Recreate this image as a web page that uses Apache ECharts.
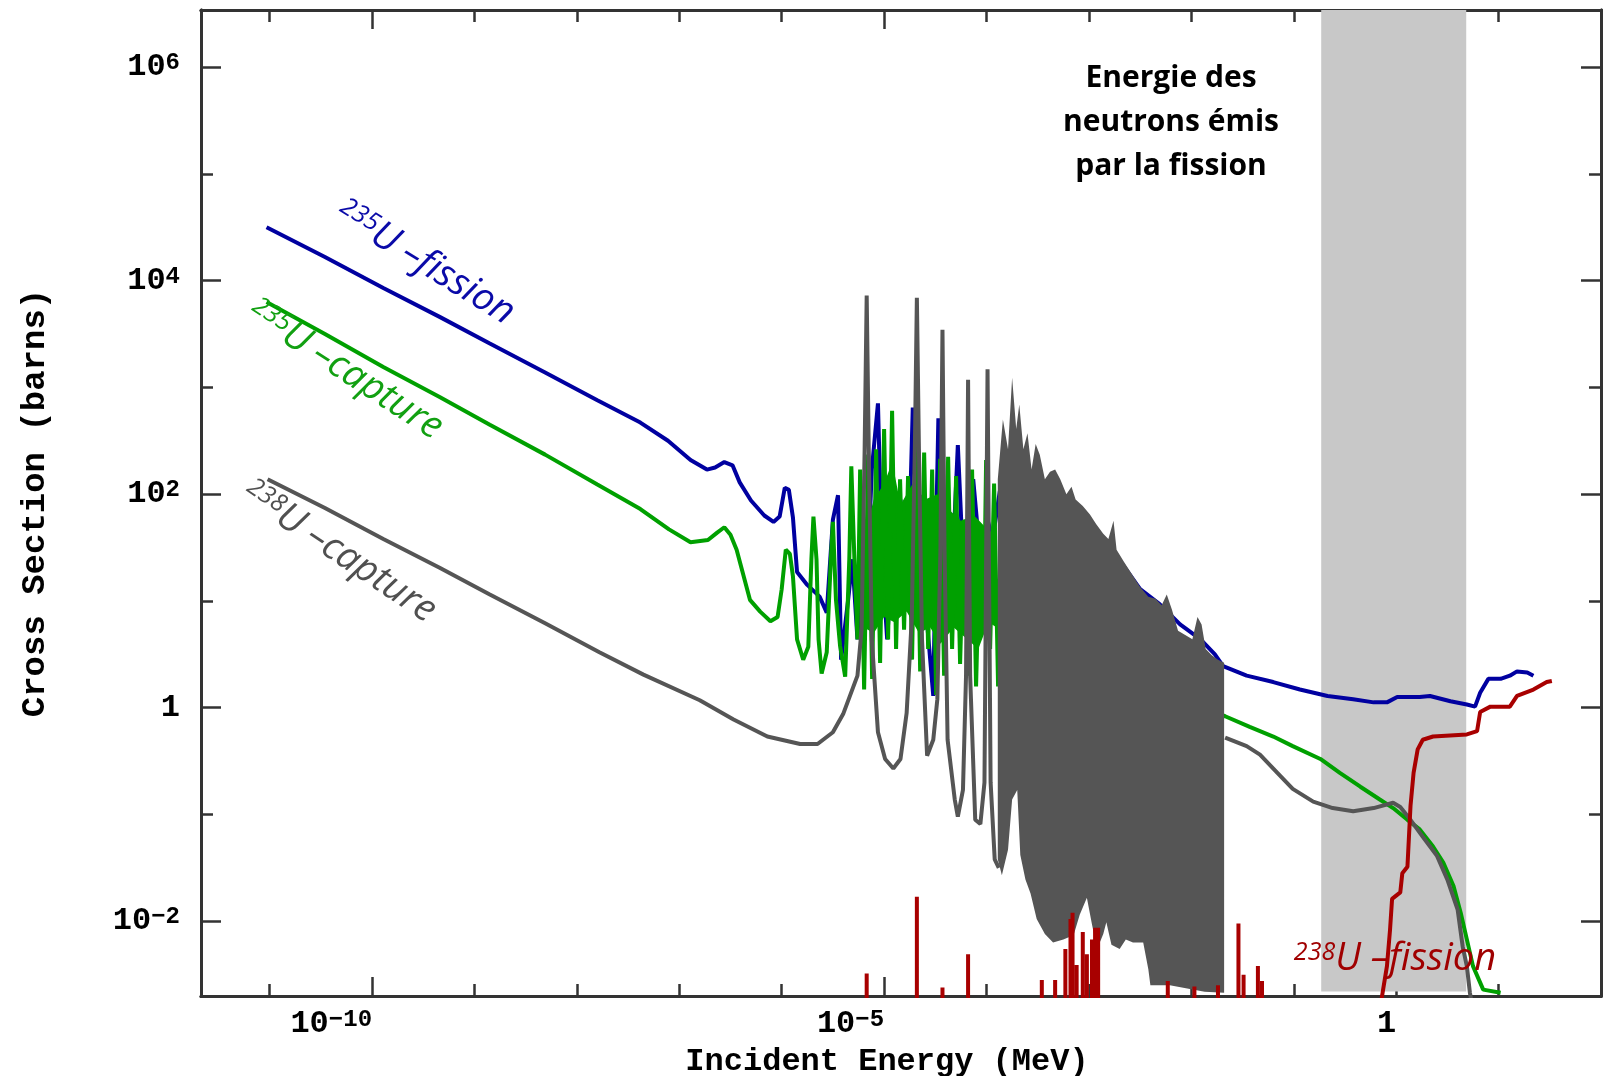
<!DOCTYPE html>
<html>
<head>
<meta charset="utf-8">
<script src="https://cdn.jsdelivr.net/npm/echarts@6/dist/echarts.min.js"></script>
<style>
html, body { margin: 0; padding: 0; background: #fff; }
#main { width: 1603px; height: 1076px; }
</style>
</head>
<body>
<div id="main"></div>
<script>
// every value below is a decade (log10): energy in MeV, cross section in barns

var fis235 = [
    [-11.03, 4.50], [-10.46, 4.22], [-9.89, 3.93], [-9.34, 3.66], [-8.85, 3.41], [-8.31, 3.14],
    [-7.80, 2.88], [-7.38, 2.67], [-7.11, 2.50], [-6.89, 2.32], [-6.73, 2.23], [-6.65, 2.25],
    [-6.56, 2.30], [-6.48, 2.27], [-6.41, 2.11], [-6.30, 1.94], [-6.17, 1.80], [-6.08, 1.74],
    [-6.02, 1.79], [-5.97, 2.06], [-5.93, 2.04], [-5.89, 1.78], [-5.85, 1.27], [-5.75, 1.15],
    [-5.63, 1.04], [-5.56, 0.89], [-5.50, 1.76], [-5.45, 1.99], [-5.42, 0.45], [-5.35, 1.02],
    [-5.31, 1.39], [-5.26, 0.64], [-5.22, 1.58], [-5.18, 0.83], [-5.12, 2.23], [-5.06, 2.85],
    [-5.02, 1.39], [-4.97, 0.64], [-4.91, 1.58], [-4.84, 1.95], [-4.80, 1.02], [-4.75, 1.76],
    [-4.72, 2.81], [-4.67, 1.39], [-4.60, 1.02], [-4.52, 0.11], [-4.49, 1.76], [-4.47, 2.71],
    [-4.43, 1.39], [-4.38, 1.95], [-4.33, 1.39], [-4.28, 2.46], [-4.23, 1.39], [-4.18, 1.76],
    [-4.13, 2.14], [-4.06, 1.39], [-3.99, 1.76], [-3.94, 1.58], [-3.87, 2.03], [-3.82, 1.58],
    [-3.77, 2.16], [-3.67, 1.67], [-3.57, 1.95], [-3.48, 1.76], [-3.31, 1.75], [-3.18, 1.53],
    [-2.99, 1.53], [-2.84, 1.44], [-2.70, 1.38], [-2.50, 1.11], [-2.31, 0.97], [-2.11, 0.78],
    [-1.91, 0.64], [-1.77, 0.50], [-1.69, 0.39], [-1.46, 0.30], [-1.20, 0.24], [-0.94, 0.17],
    [-0.67, 0.11], [-0.42, 0.08], [-0.22, 0.05], [-0.09, 0.05], [0.01, 0.10], [0.23, 0.10],
    [0.33, 0.11], [0.53, 0.06], [0.69, 0.03], [0.77, 0.01], [0.82, 0.14], [0.90, 0.27],
    [1.02, 0.27], [1.11, 0.30], [1.18, 0.34], [1.28, 0.33], [1.34, 0.30]
];

var capt235 = [
    [-11.03, 3.80], [-10.46, 3.50], [-9.89, 3.19], [-9.34, 2.91], [-8.85, 2.65], [-8.31, 2.37],
    [-7.80, 2.09], [-7.38, 1.86], [-7.10, 1.67], [-6.89, 1.55], [-6.72, 1.57], [-6.63, 1.64],
    [-6.56, 1.69], [-6.50, 1.62], [-6.44, 1.48], [-6.31, 1.01], [-6.21, 0.90], [-6.11, 0.81],
    [-6.04, 0.85], [-6.00, 1.11], [-5.96, 1.48], [-5.92, 1.44], [-5.89, 1.23], [-5.85, 0.64],
    [-5.79, 0.45], [-5.74, 0.57], [-5.71, 1.39], [-5.69, 1.79], [-5.66, 1.39], [-5.64, 0.64],
    [-5.61, 0.32], [-5.56, 0.52], [-5.52, 1.39], [-5.50, 1.74], [-5.47, 1.01], [-5.43, 0.58],
    [-5.38, 0.29], [-5.34, 1.39], [-5.32, 2.26], [-5.29, 1.39], [-5.26, 0.64],
    [-5.234, 2.23], [-5.195, 0.17], [-5.156, 2.37], [-5.117, 0.27], [-5.078, 2.42], [-5.039, 0.42],
    [-5.000, 2.61], [-4.961, 0.64], [-4.922, 2.78], [-4.883, 0.55], [-4.844, 2.14], [-4.805, 0.73],
    [-4.766, 2.17], [-4.727, 0.45], [-4.688, 2.61], [-4.648, 0.34], [-4.609, 2.39], [-4.570, 0.55],
    [-4.531, 2.23], [-4.492, 0.12], [-4.453, 2.33], [-4.414, 0.30], [-4.375, 2.35], [-4.336, 0.55],
    [-4.297, 2.17], [-4.258, 0.41], [-4.219, 1.76], [-4.180, 0.30], [-4.141, 2.23], [-4.102, 0.20],
    [-4.063, 1.67], [-4.023, 1.01], [-4.004, 2.32], [-3.965, 0.55], [-3.926, 2.10], [-3.887, 0.20],
    [-3.848, 1.88], [-3.809, 0.64],
    [-1.67, -0.08], [-1.43, -0.18], [-1.20, -0.27], [-1.01, -0.36], [-0.74, -0.48], [-0.55, -0.61],
    [-0.35, -0.74], [-0.16, -0.86], [-0.03, -0.94], [0.11, -1.05], [0.23, -1.14], [0.36, -1.30],
    [0.46, -1.45], [0.56, -1.67], [0.63, -1.92], [0.69, -2.17], [0.75, -2.42], [0.85, -2.64],
    [1.02, -2.67]
];

// dense core of the 235U capture resonances (outline)
var capt235CoreTop = [
    [-5.20, 1.60], [-5.10, 1.95], [-5.00, 2.10], [-4.92, 2.30], [-4.84, 1.90], [-4.72, 2.10],
    [-4.60, 1.95], [-4.48, 2.00], [-4.36, 1.85], [-4.25, 1.75], [-4.12, 1.80], [-4.02, 1.70],
    [-3.90, 1.60]
];
var capt235CoreBottom = [
    [-5.20, 0.75], [-5.10, 0.70], [-5.00, 0.85], [-4.90, 0.80], [-4.78, 0.90], [-4.66, 0.70],
    [-4.55, 0.75], [-4.45, 0.60], [-4.32, 0.75], [-4.20, 0.65], [-4.08, 0.55], [-3.98, 0.80],
    [-3.90, 0.75]
];

var capt238 = [
    [-11.02, 2.14], [-10.46, 1.87], [-9.89, 1.58], [-9.34, 1.31], [-8.85, 1.06], [-8.31, 0.79],
    [-7.78, 0.52], [-7.35, 0.31], [-6.80, 0.07], [-6.47, -0.11], [-6.14, -0.27], [-5.82, -0.34],
    [-5.65, -0.34], [-5.50, -0.23], [-5.40, -0.06], [-5.33, 0.12], [-5.26, 0.30], [-5.22, 0.73],
    [-5.19, 2.42], [-5.17, 3.86], [-5.15, 2.42], [-5.12, 0.64], [-5.06, -0.23], [-4.99, -0.48],
    [-4.91, -0.57], [-4.84, -0.48], [-4.78, -0.05], [-4.73, 0.83], [-4.70, 2.42], [-4.68, 3.84],
    [-4.66, 2.42], [-4.63, 0.64], [-4.58, -0.45], [-4.52, -0.30], [-4.48, 0.08], [-4.45, 1.48],
    [-4.43, 3.54], [-4.41, 1.48], [-4.38, -0.30], [-4.31, -0.86], [-4.28, -1.02], [-4.23, -0.77],
    [-4.20, 0.30], [-4.18, 3.07], [-4.16, 0.30], [-4.11, -1.05], [-4.06, -1.09], [-4.02, -0.70],
    [-3.99, 3.17], [-3.96, -0.70], [-3.92, -1.42], [-3.88, -1.50]
];

// unresolved resonances of 238U capture, drawn as a filled outline
var capt238BandTop = [
    [-3.89, 2.14], [-3.84, 2.70], [-3.79, 2.42], [-3.75, 3.09], [-3.71, 2.61], [-3.68, 2.84],
    [-3.64, 2.42], [-3.60, 2.57], [-3.56, 2.23], [-3.52, 2.47], [-3.48, 2.37], [-3.43, 2.14],
    [-3.38, 2.21], [-3.33, 2.23], [-3.28, 2.14], [-3.22, 2.00], [-3.17, 2.07], [-3.13, 1.95],
    [-3.06, 1.89], [-2.99, 1.81], [-2.93, 1.72], [-2.86, 1.63], [-2.81, 1.58], [-2.76, 1.75],
    [-2.73, 1.48], [-2.66, 1.37], [-2.58, 1.25], [-2.50, 1.13], [-2.42, 1.04], [-2.35, 1.02],
    [-2.29, 0.96], [-2.24, 1.06], [-2.19, 0.92], [-2.13, 0.72], [-2.06, 0.68], [-1.99, 0.64],
    [-1.94, 0.85], [-1.90, 0.78], [-1.86, 0.55], [-1.80, 0.49], [-1.74, 0.45], [-1.68, 0.42]
];
var capt238BandBottom = [
    [-3.89, -1.42], [-3.85, -1.57], [-3.79, -1.33], [-3.75, -0.86], [-3.70, -0.77], [-3.67, -1.38],
    [-3.62, -1.61], [-3.57, -1.74], [-3.51, -1.98], [-3.43, -2.12], [-3.35, -2.20], [-3.25, -2.17],
    [-3.15, -2.13], [-3.09, -1.94], [-3.02, -1.78], [-2.97, -2.03], [-2.92, -2.26], [-2.86, -2.12],
    [-2.83, -2.01], [-2.78, -2.22], [-2.70, -2.26], [-2.64, -2.17], [-2.57, -2.20], [-2.47, -2.20],
    [-2.42, -2.45], [-2.40, -2.60], [-2.21, -2.60], [-2.04, -2.63], [-1.87, -2.66], [-1.68, -2.67]
];

var capt238Tail = [
    [-1.67, -0.28], [-1.46, -0.36], [-1.33, -0.44], [-1.16, -0.61], [-1.01, -0.76], [-0.81, -0.88],
    [-0.62, -0.94], [-0.42, -0.97], [-0.22, -0.94], [-0.03, -0.89], [0.04, -0.93], [0.14, -1.05],
    [0.26, -1.21], [0.40, -1.39], [0.50, -1.61], [0.60, -1.89], [0.65, -2.24], [0.69, -2.42],
    [0.72, -2.67], [0.75, -2.83]
];

// small 238U fission resonances (peak heights) and the fission threshold
var fis238Spikes = [
    [-5.17, -2.49], [-4.68, -1.77], [-4.43, -2.62], [-4.18, -2.31], [-3.46, -2.55], [-3.33, -2.55],
    [-3.23, -2.26], [-3.18, -1.98], [-3.16, -1.92], [-3.12, -2.41], [-3.06, -2.10], [-3.02, -2.31],
    [-2.97, -2.17], [-2.94, -2.06], [-2.91, -2.06], [-2.23, -2.56], [-1.97, -2.61], [-1.74, -2.60],
    [-1.54, -2.02], [-1.49, -2.50], [-1.35, -2.42], [-1.31, -2.56]
];
var fis238 = [
    [-0.16, -2.83], [-0.09, -2.42], [-0.06, -2.08], [-0.04, -1.79], [0.04, -1.73], [0.06, -1.55],
    [0.11, -1.49], [0.14, -0.92], [0.17, -0.61], [0.21, -0.39], [0.26, -0.30], [0.36, -0.27],
    [0.69, -0.25], [0.79, -0.22], [0.82, -0.04], [0.92, 0.01], [1.11, 0.01], [1.18, 0.11],
    [1.34, 0.17], [1.47, 0.24], [1.52, 0.25]
];

// fission neutron energy range (grey band)
var fissionBand = [-0.732, 0.684];

var xMajor = [-10, -5, 0];
var xMinor = [-11, -9, -8, -7, -6, -4, -3, -2, -1, 1];
var yMajor = [6, 4, 2, 0, -2];
var yMinor = [5, 3, 1, -1];

var xMin = -11.67, xMax = 2.0;
var yMin = -2.70, yMax = 6.534;

var blue = '#0000a0', green = '#00a000', grey = '#555555', red = '#a80000';
var axisColor = '#333333';

var tickRich = {
    b: { fontFamily: 'Liberation Mono', fontWeight: 'bold', fontSize: 32, color: '#000' },
    e: { fontFamily: 'Liberation Mono', fontWeight: 'bold', fontSize: 24, color: '#000', verticalAlign: 'top' }
};
function powLabel(v) {
    if (v === 0) return '{b|1}';
    return '{b|10}{e|' + String(v).replace('-', '\u2212') + '}';
}

function axisDef(kind, position, values, len, withLabels) {
    var ax = {
        type: 'value', position: position, offset: 0,
        min: kind === 'x' ? xMin : yMin,
        max: kind === 'x' ? xMax : yMax,
        axisLine: { show: true, onZero: false, lineStyle: { color: axisColor, width: 3 } },
        axisTick: { show: true, inside: true, length: len, customValues: values,
            lineStyle: { color: axisColor, width: 2.5 } },
        axisLabel: { show: false },
        splitLine: { show: false }
    };
    if (withLabels) {
        ax.axisLabel = { show: true, customValues: values, formatter: powLabel, rich: tickRich,
            margin: kind === 'x' ? 12 : 21 };
        if (kind === 'x') ax.axisLabel.align = 'right';
    }
    return ax;
}

var xAxes = [
    axisDef('x', 'bottom', xMajor, 19, true),
    axisDef('x', 'bottom', xMinor, 12, false),
    axisDef('x', 'top', xMajor, 19, false),
    axisDef('x', 'top', xMinor, 12, false)
];
xAxes[0].name = 'Incident Energy (MeV)';
xAxes[0].nameLocation = 'middle';
xAxes[0].nameGap = 50;
xAxes[0].nameTextStyle = { fontFamily: 'Liberation Mono', fontWeight: 'bold', fontSize: 32, color: '#000',
    padding: [0, 28, 0, 0] };

var yAxes = [
    axisDef('y', 'left', yMajor, 20, true),
    axisDef('y', 'left', yMinor, 12, false),
    axisDef('y', 'right', yMajor, 20, false),
    axisDef('y', 'right', yMinor, 12, false)
];
yAxes[0].name = 'Cross Section (barns)';
yAxes[0].nameLocation = 'middle';
yAxes[0].nameGap = 149;
yAxes[0].nameTextStyle = { fontFamily: 'Liberation Mono', fontWeight: 'bold', fontSize: 34, color: '#000' };

function lineSeries(name, data, color, z) {
    return {
        type: 'line', name: name, data: data, z: z,
        showSymbol: false, symbol: 'none', clip: true, animation: false,
        lineStyle: { color: color, width: 4 },
        itemStyle: { color: color },
        emphasis: { disabled: true }
    };
}

function outlineSeries(name, top, bottom, color, z) {
    return {
        type: 'custom', name: name, z: z, silent: true, clip: true, animation: false,
        data: [top[0]],
        renderItem: function (params, api) {
            var pts = top.concat(bottom.slice().reverse()).map(function (p) {
                return api.coord(p);
            });
            return { type: 'polygon', shape: { points: pts }, style: { fill: color } };
        }
    };
}

// red: each resonance is a vertical stroke rising from below the axis
var fis238Line = [];
fis238Spikes.forEach(function (p) {
    fis238Line.push([p[0], -3.2], p, [p[0], -3.2]);
});
fis238Line = fis238Line.concat(fis238);

function curveLabel(x, y, deg, iso, txt, color) {
    return {
        type: 'text', x: x, y: y, rotation: -deg * Math.PI / 180, z: 100,
        style: {
            text: '{s|' + iso + '}{m|' + txt + '}',
            align: 'center', verticalAlign: 'middle',
            textAlign: 'center', textVerticalAlign: 'middle',
            rich: {
                s: { fontSize: 25, fontFamily: 'Open Sans', fontStyle: 'italic', fill: color, verticalAlign: 'top' },
                m: { fontSize: 38, fontFamily: 'Open Sans', fontStyle: 'italic', fill: color }
            }
        }
    };
}

var chart = echarts.init(document.getElementById('main'));
var option = {
    backgroundColor: '#fff',
    animation: false,
    grid: { left: 201, right: 2, top: 10, bottom: 80, containLabel: false, outerBoundsMode: 'none' },
    xAxis: xAxes,
    yAxis: yAxes,
    graphic: [
        {
            type: 'text', x: 1171, y: 122, z: 100,
            style: {
                text: 'Energie des\nneutrons émis\npar la fission',
                fontFamily: 'Open Sans', fontWeight: 'bold', fontSize: 30, lineHeight: 44, fill: '#000',
                align: 'center', verticalAlign: 'middle', textAlign: 'center', textVerticalAlign: 'middle'
            }
        },
        curveLabel(425, 263, 31.7, '235', 'U \u2013fission', '#0a0aa8'),
        curveLabel(345, 370, 33, '235', 'U \u2013capture', '#12a012'),
        curveLabel(339, 552, 33.7, '238', 'U \u2013capture', '#505050'),
        curveLabel(1395, 959, 0, '238', 'U \u2013fission', '#a00000')
    ],
    series: [
        {
            type: 'custom', name: 'band', z: 1, silent: true, clip: true, animation: false,
            data: [[fissionBand[0], fissionBand[1], -2.658, yMax]],
            encode: { x: [0, 1], y: [2, 3] },
            renderItem: function (params, api) {
                var p0 = api.coord([api.value(0), api.value(2)]);
                var p1 = api.coord([api.value(1), api.value(3)]);
                return {
                    type: 'rect',
                    shape: { x: p0[0], y: p1[1], width: p1[0] - p0[0], height: p0[1] - p1[1] },
                    style: { fill: '#c8c8c8' }
                };
            }
        },
        lineSeries('235U fission', fis235, blue, 2),
        outlineSeries('235U capture core', capt235CoreTop, capt235CoreBottom, green, 3),
        lineSeries('235U capture', capt235, green, 3),
        lineSeries('238U capture', capt238, grey, 4),
        outlineSeries('238U capture band', capt238BandTop, capt238BandBottom, grey, 4),
        lineSeries('238U capture tail', capt238Tail, grey, 4),
        lineSeries('238U fission', fis238Line, red, 5)
    ]
};
chart.setOption(option);
</script>
</body>
</html>
